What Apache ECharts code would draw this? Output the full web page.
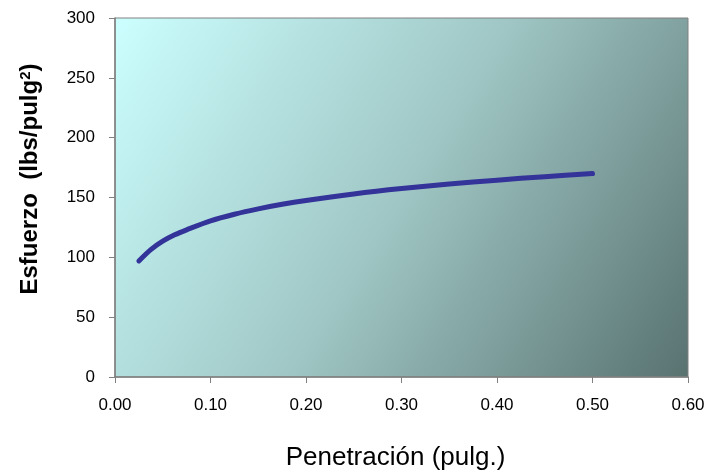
<!DOCTYPE html>
<html>
<head>
<meta charset="utf-8">
<script src="https://cdn.jsdelivr.net/npm/echarts@6/dist/echarts.min.js"></script>
<style>
  html, body { margin: 0; padding: 0; background: #fff; }
  #chart { width: 709px; height: 476px; }
</style>
</head>
<body>
<div id="chart"></div>
<script>
// penetration (pulg.) and stress (lbs/pulg2)
const penetracion = [0.025, 0.0375, 0.05, 0.0625, 0.075, 0.1, 0.125, 0.15, 0.175, 0.2, 0.25, 0.3, 0.35, 0.4, 0.45, 0.5];
const esfuerzo = [97, 106.5, 113.5, 118.8, 123, 130.5, 136, 140.5, 144.3, 147.5, 153, 157.5, 161.2, 164.5, 167.4, 170];

const chart = echarts.init(document.getElementById("chart"));

const option = {
  animation: false,
  grid: {
    left: 115,
    right: 21,
    top: 18,
    bottom: 98,
    show: true,
    borderColor: "#808080",
    borderWidth: 1,
    backgroundColor: new echarts.graphic.LinearGradient(0, 0, 1, 1, [
      { offset: 0, color: "#ccffff" },
      { offset: 0.5, color: "#9fc6c4" },
      { offset: 1, color: "#587270" },
    ]),
  },
  graphic: [
    {
      type: "text",
      x: 30,
      y: 179,
      rotation: Math.PI / 2,
      style: {
        text: "Esfuerzo  (lbs/pulg{s|2})",
        fill: "#000",
        font: "bold 24px 'Liberation Sans'",
        align: "center",
        verticalAlign: "middle",
        rich: {
          s: {
            fontSize: 15,
            fontWeight: "bold",
            fontFamily: "Liberation Sans",
            verticalAlign: "top",
            lineHeight: 24,
            padding: [0, 0, 8, 0],
          },
        },
      },
    },
  ],
  xAxis: {
    type: "value",
    min: 0,
    max: 0.6,
    interval: 0.1,
    name: "Penetración (pulg.)",
    nameLocation: "middle",
    nameGap: 68,
    nameTextStyle: {
      color: "#000",
      fontFamily: "Liberation Sans",
      fontSize: 26,
      padding: [0, 12, 0, 0],
    },
    axisLine: { lineStyle: { color: "#808080", width: 1.5 } },
    axisTick: { show: true, length: 6, lineStyle: { color: "#808080" } },
    splitLine: { show: false },
    axisLabel: {
      color: "#000",
      fontFamily: "Liberation Sans",
      fontSize: 17,
      margin: 20,
      formatter: (v) => v.toFixed(2),
    },
  },
  yAxis: {
    type: "value",
    min: 0,
    max: 300,
    interval: 50,
    axisLine: { show: true, lineStyle: { color: "#808080", width: 1.5 } },
    axisTick: { show: true, length: 6, lineStyle: { color: "#808080" } },
    splitLine: { show: false },
    axisLabel: {
      color: "#000",
      fontFamily: "Liberation Sans",
      fontSize: 17,
      margin: 20,
    },
  },
  series: [
    {
      type: "line",
      data: penetracion.map((x, i) => [x, esfuerzo[i]]),
      smooth: 0.3,
      showSymbol: false,
      lineStyle: { color: "#333399", width: 5, cap: "round" },
    },
  ],
};

chart.setOption(option);
</script>
</body>
</html>
